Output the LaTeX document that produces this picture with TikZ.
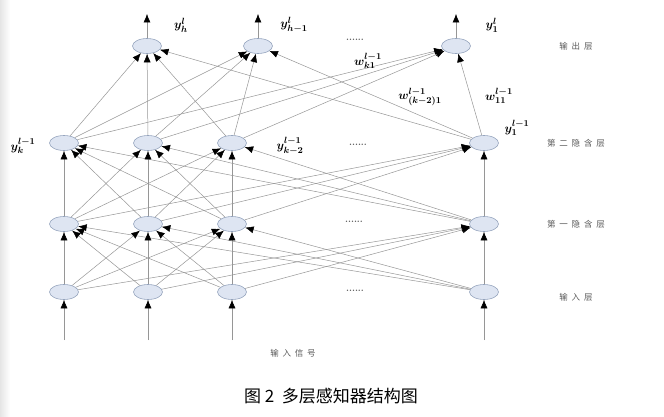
\documentclass[tikz,border=0pt]{standalone}
\usepackage{fontspec}
\usetikzlibrary{arrows.meta,shapes.geometric}
\newfontfamily\cjk{Noto Sans CJK SC}
\newfontfamily\cjksp{Noto Sans CJK SC}[LetterSpace=45]
\definecolor{nodefill}{RGB}{222,229,242}
\definecolor{nodeline}{RGB}{150,165,190}
\definecolor{connline}{RGB}{150,150,150}
\definecolor{labgray}{RGB}{90,90,90}
\tikzset{
  neuron/.style={ellipse,draw=nodeline,fill=nodefill,line width=0.6pt,minimum width=29pt,minimum height=15pt,inner sep=0pt},
  conn/.style={draw=connline,line width=0.5pt,-{Latex[length=8.5pt,width=7pt,black]}},
  layerlab/.style={font=\cjksp\fontsize{8.5}{9}\selectfont,text=labgray},
  mathlab/.style={font=\fontsize{12.5}{13}\selectfont\boldmath,inner sep=0pt},
  dotslab/.style={font=\bfseries\fontsize{9}{9}\selectfont,text=labgray,inner sep=1pt}
}
\begin{document}
\begin{tikzpicture}[x=1pt,y=-1pt]
\useasboundingbox (0,0) rectangle (664,417);
\fill[left color=black!10,right color=white] (0,0) rectangle (10,417);
% nodes
\foreach \n/\x in {1/64,2/148,3/232,4/484}{
  \node[neuron] (i\n) at (\x,292) {};
  \node[neuron] (a\n) at (\x,224) {};
  \node[neuron] (b\n) at (\x,143) {};
  \coordinate (s\n) at (\x,340);
}
\foreach \n/\x in {1/147,2/258,3/456}{
  \node[neuron] (o\n) at (\x,46) {};
  \coordinate (t\n) at (\x,14);
}
% connections
\foreach \n in {1,...,4}{
  \draw[conn] (s\n) -- (i\n);
  \foreach \m in {1,...,4}{
    \draw[conn] (i\m) -- (a\n);
    \draw[conn] (a\m) -- (b\n);
  }
}
\foreach \n in {1,2,3}{
  \draw[conn] (o\n) -- (t\n);
  \foreach \m in {1,...,4}{
    \draw[conn] (b\m) -- (o\n);
  }
}
% math labels
\node[mathlab] (ly1) at (181,25) {$y^{l}_{h}$};
\node[mathlab] (ly2) at (294,25) {$y^{l}_{h-1}$};
\node[mathlab] (ly3) at (492,25) {$y^{l}_{1}$};
\node[mathlab] (lw1) at (368,61) {$w^{l-1}_{k1}$};
\node[mathlab] (lw2) at (420,97) {$w^{l-1}_{(k-2)1}$};
\node[mathlab] (lw3) at (499,96) {$w^{l-1}_{11}$};
\node[mathlab] (lb1) at (23,146) {$y^{l-1}_{k}$};
\node[mathlab] (lb3) at (290,146) {$y^{l-1}_{k-2}$};
\node[mathlab] (lb4) at (517,128) {$y^{l-1}_{1}$};
% dots
\node[dotslab] (d0) at (355,40) {......};
\node[dotslab] (d1) at (358,145) {......};
\node[dotslab] (d2) at (354,222) {......};
\node[dotslab] (d3) at (355,291) {......};
% layer labels
\node[layerlab] (L0) at (576,46) {输出层};
\node[layerlab] (L1) at (576,143) {第二隐含层};
\node[layerlab] (L2) at (576,224) {第一隐含层};
\node[layerlab] (L3) at (576,297) {输入层};
\node[layerlab] (Lin) at (293,353) {输入信号};
% caption
\node[font=\cjk\fontsize{17}{18}\selectfont] (cap) at (331,396) {图 2\ \ 多层感知器结构图};
\end{tikzpicture}
\end{document}
